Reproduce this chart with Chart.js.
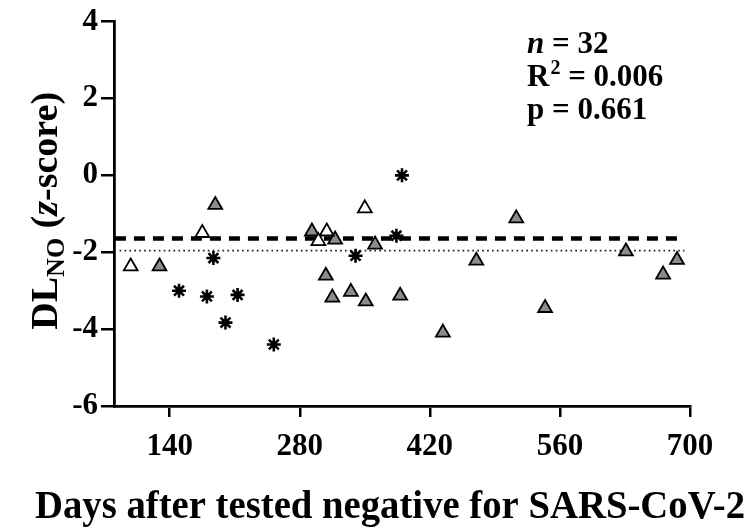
<!DOCTYPE html>
<html>
<head>
<meta charset="utf-8">
<script src="https://cdn.jsdelivr.net/npm/chart.js@4"></script>
<style>
  body { margin: 0; background: #fff; }
  #wrap { width: 750px; height: 530px; }
</style>
</head>
<body>
<div id="wrap"><canvas id="myChart" width="750" height="530"></canvas></div>
<script>
// days after negative test / DLNO z-score
var openDays = [98, 175, 350, 309, 300];
var openZ = [-2.37, -1.50, -0.86, -1.46, -1.71];

var grayDays = [129, 189, 293, 318, 361, 470, 308, 315, 335, 351, 388, 434, 513, 631, 686, 671, 544];
var grayZ = [-2.37, -0.77, -1.46, -1.67, -1.80, -2.22, -2.61, -3.18, -3.03, -3.28, -3.13, -4.09, -1.12, -1.98, -2.20, -2.58, -3.45];

var starDays = [390, 384, 340, 187, 150, 180, 213, 200, 252];
var starZ = [0.0, -1.57, -2.09, -2.15, -3.00, -3.15, -3.11, -3.83, -4.40];

var lnnDays = [81, 689];
var lnnZ = [-1.645, -1.645];
var fitDays = [86, 694];
var fitZ = [-1.96, -1.96];

var xTicks = [140, 280, 420, 560, 700];
var yTicks = [-6, -4, -2, 0, 2, 4];

var xTitle = 'Days after tested negative for SARS-CoV-2';
var statLines = [
    { label: 'n', value: ' = 32' },
    { label: 'R', value: ' = 0.006' },
    { label: 'p', value: ' = 0.661' }
];

var fontFam = '"Liberation Serif", "Times New Roman", serif';

function pts(xs, ys){
    var out = [];
    for (var i = 0; i < xs.length; i++) out.push({ x: xs[i], y: ys[i] });
    return out;
}

var textPlugin = {
    id: 'textPlugin',
    afterDraw: function(chart){
        var ctx = chart.ctx;
        ctx.save();
        ctx.fillStyle = '#000';
        ctx.textBaseline = 'alphabetic';

        // x axis title, squeezed a bit to the width of the original
        ctx.font = 'bold 40px ' + fontFam;
        var w = ctx.measureText(xTitle).width;
        var sc = 710 / w;
        ctx.translate(390, 518);
        ctx.scale(sc, 1);
        ctx.textAlign = 'center';
        ctx.fillText(xTitle, 0, 0);
        ctx.setTransform(1, 0, 0, 1, 0, 0);
        ctx.textAlign = 'left';

        // y axis title, rotated
        var cy = (chart.chartArea.top + chart.chartArea.bottom) / 2 - 3;
        ctx.translate(57, cy);
        ctx.rotate(-Math.PI / 2);
        var big = 'bold 38px ' + fontFam;
        var sub = 'bold 26px ' + fontFam;
        var ital = 'italic bold 38px ' + fontFam;
        var parts = [
            { t: 'DL', f: big, dy: 0 },
            { t: 'NO', f: sub, dy: 7 },
            { t: ' (', f: big, dy: 0 },
            { t: 'z', f: ital, dy: 0 },
            { t: '-score)', f: big, dy: 0 }
        ];
        var total = 0;
        parts.forEach(function(p){ ctx.font = p.f; total += ctx.measureText(p.t).width; });
        var x = -total / 2;
        parts.forEach(function(p){
            ctx.font = p.f;
            ctx.fillText(p.t, x, p.dy);
            x += ctx.measureText(p.t).width;
        });
        ctx.setTransform(1, 0, 0, 1, 0, 0);

        // stats text top right
        var sx = 527;
        var by = [53, 86, 119];
        var f = 'bold 31px ' + fontFam;
        statLines.forEach(function(s, i){
            var xx = sx;
            ctx.font = (i === 0 ? 'italic bold 31px ' : 'bold 31px ') + fontFam;
            ctx.fillText(s.label, xx, by[i]);
            xx += ctx.measureText(s.label).width;
            if (i === 1) {
                ctx.font = 'bold 20px ' + fontFam;
                ctx.fillText('2', xx + 1, by[i] - 12);
                xx += ctx.measureText('2').width + 1;
            }
            ctx.font = f;
            ctx.fillText(s.value, xx, by[i]);
        });
        ctx.restore();
    }
};

var ctx = document.getElementById('myChart').getContext('2d');
var chart = new Chart(ctx, {
    type: 'scatter',
    data: {
        datasets: [
            {
                label: 'open',
                data: pts(openDays, openZ),
                pointStyle: 'triangle',
                pointRadius: 8,
                pointHoverRadius: 8,
                backgroundColor: '#ffffff',
                borderColor: '#000000',
                borderWidth: 1.8,
                order: 1
            },
            {
                label: 'gray',
                data: pts(grayDays, grayZ),
                pointStyle: 'triangle',
                pointRadius: 8,
                pointHoverRadius: 8,
                backgroundColor: '#8c8c8c',
                borderColor: '#000000',
                borderWidth: 1.8,
                order: 1
            },
            {
                label: 'star',
                data: pts(starDays, starZ),
                pointStyle: 'star',
                pointRadius: 7,
                pointHoverRadius: 7,
                backgroundColor: '#000000',
                borderColor: '#000000',
                borderWidth: 2.6,
                order: 1
            },
            {
                type: 'line',
                label: 'lln',
                data: pts(lnnDays, lnnZ),
                borderColor: '#000000',
                borderWidth: 4.5,
                borderDash: [11, 8],
                pointRadius: 0,
                fill: false,
                order: 2
            },
            {
                type: 'line',
                label: 'fit',
                data: pts(fitDays, fitZ),
                borderColor: '#222222',
                borderWidth: 1.7,
                borderDash: [1.7, 3.2],
                pointRadius: 0,
                fill: false,
                order: 2
            }
        ]
    },
    options: {
        responsive: false,
        animation: false,
        devicePixelRatio: 1,
        layout: { padding: { left: 0, right: 60, top: 21, bottom: 0 } },
        plugins: {
            legend: { display: false },
            tooltip: { enabled: false }
        },
        scales: {
            x: {
                type: 'linear',
                min: 80,
                max: 700,
                afterBuildTicks: function(scale){
                    scale.ticks = xTicks.map(function(v){ return { value: v }; });
                },
                afterFit: function(scale){ scale.height = 124; },
                grid: {
                    drawOnChartArea: false,
                    drawTicks: true,
                    tickLength: 11,
                    color: '#000',
                    lineWidth: 2.5
                },
                border: { display: true, color: '#000', width: 2.8 },
                ticks: {
                    color: '#000',
                    padding: 11,
                    maxRotation: 0,
                    font: { family: fontFam, size: 31, weight: 'bold' }
                }
            },
            y: {
                min: -6,
                max: 4,
                afterBuildTicks: function(scale){
                    scale.ticks = yTicks.map(function(v){ return { value: v }; });
                },
                afterFit: function(scale){ scale.width = 114; },
                grid: {
                    drawOnChartArea: false,
                    drawTicks: true,
                    tickLength: 13,
                    color: '#000',
                    lineWidth: 2.5
                },
                border: { display: true, color: '#000', width: 2.8 },
                ticks: {
                    color: '#000',
                    padding: 3,
                    font: { family: fontFam, size: 31, weight: 'bold' }
                }
            }
        }
    },
    plugins: [textPlugin]
});
</script>
</body>
</html>
